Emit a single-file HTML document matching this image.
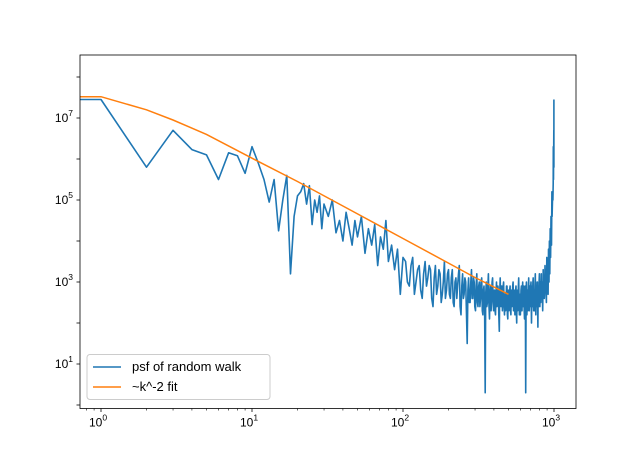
<!DOCTYPE html>
<html><head><meta charset="utf-8"><style>
body{margin:0;background:#fff}
svg text{font-family:"Liberation Sans",sans-serif;fill:#000}
</style></head><body>
<svg id="chart" width="640" height="459" xmlns="http://www.w3.org/2000/svg">
<rect width="640" height="459" fill="#fff"/>
<g id="plot"></g>
</svg>
<script>
// ---- data ----
const headK = [1,2,3,4,5,6,7,8,9,10,11,12,13,14,15,16,17,18,19,20,21,22,23,24,25,26,27,28,29,30,32,34,36,38,40,42,44,46,48,50,53,56,59,62,65,68,71,74,77,80,84,88,92,96,100];
const headLog = [7.45,5.8,6.7,6.23,6.1,5.5,6.15,6.08,5.65,6.3,5.9,5.5,4.95,5.5,4.25,5.0,5.6,3.2,4.6,5.1,5.2,5.4,4.9,5.35,4.4,5.0,4.7,5.1,4.3,4.9,4.6,5.0,4.2,4.5,4.0,4.7,4.3,3.9,4.5,4.1,4.6,3.7,4.3,3.9,4.4,3.4,4.1,3.8,4.5,3.5,3.9,3.3,3.8,2.7,3.6];
const denseStart = 104, denseStep = 3;
const denseLog = [3.5,3.0,2.9,3.4,3.6,2.7,3.0,3.3,3.4,2.8,2.6,3.2,3.5,2.9,3.1,3.4,3.3,2.6,2.4,3.1,3.4,2.7,2.9,3.3,3.2,2.5,2.7,3.0,3.5,2.6,2.8,3.2,3.3,2.7,
2.6,3.1,3.3,2.5,2.4,3.0,3.1,2.6,2.9,3.2,3.4,2.4,2.2,2.9,3.2,2.6,2.7,3.1,3.0,2.3,1.5,2.8,3.1,2.5,2.5,3.0,3.3,2.6,2.6,3.1,3.0,2.4,2.3,2.9,
3.2,2.5,2.4,2.9,3.0,2.4,2.6,3.0,3.1,2.3,2.2,2.8,2.9,2.4,0.3,2.7,3.0,2.4,2.5,2.9,3.2,2.4,2.1,2.7,2.9,2.3,2.6,3.0,3.1,2.5,2.3,2.8,2.8,2.3,
2.2,2.7,3.0,2.4,2.5,2.9,2.8,2.2,1.8,2.7,3.1,2.5,2.4,2.9,2.9,2.3,2.6,2.9,3.0,2.4,2.2,2.7,2.7,2.3,2.5,2.9,2.9,2.2,2.1,2.6,2.8,2.3,2.4,2.8,
2.9,2.3,2.2,2.7,2.8,2.4,2.6,2.9,3.0,2.3,2.3,2.8,2.7,2.2,2.5,2.8,2.9,2.3,2.0,2.6,2.8,2.3,2.4,2.9,3.1,2.5,2.2,2.7,2.7,2.2,2.5,2.8,2.9,2.3,
2.3,2.8,3.0,2.4,2.6,2.9,2.8,2.3,2.1,2.7,2.9,2.4,0.3,2.7,3.0,2.4,2.2,2.7,2.8,2.3,2.6,2.9,3.1,2.5,2.3,2.8,2.9,2.4,2.5,2.9,3.0,2.4,2.0,2.6,
2.9,2.4,2.6,3.0,3.1,2.5,2.3,2.8,2.8,2.3,2.5,2.9,3.2,2.6,2.2,2.7,2.9,2.4,2.7,3.0,3.0,2.4,1.9,2.6,2.9,2.4,2.6,3.0,3.2,2.6,2.4,2.8,3.0,2.5,
2.5,3.0,3.2,2.6,2.6,3.0,3.0,2.5,2.3,2.9,3.3,2.7,2.7,3.1,3.1,2.6,2.8,3.1,3.4,2.8,2.8,3.2,3.3,2.7,2.5,3.1,3.6,2.9,2.9,3.3,3.5,2.9,2.7,3.2,
3.8,3.1,3.0,3.5,4.0,3.3,3.2,3.8,4.3,3.6,3.6,4.1,4.6,3.9,3.9,4.5,5.2,4.6,4.8,5.0,5.1];
const tailK = [984,988,990,992,994,996,997,998,999];
const tailLog = [5.0,5.4,6.3,5.5,6.1,6.23,6.7,5.8,7.45];
const fitK = [1,2,3,5,10,20,50,100,200,300,500];
const fitLog = [7.52,7.2,6.95,6.6,6.02,5.45,4.66,4.06,3.46,3.11,2.7];
const xTickExp = [0,1,2,3];
const yTickExp = [1,3,5,7];

// ---- axes ----
const L=80,R=576,T=55,B=408.5;
const xPerDec=151, x0=101;
const y7=118, yPerDec=41;
const X = k => x0 + xPerDec*Math.log10(k);
const XL = lg => x0 + xPerDec*lg;
const Y = lg => y7 + (7-lg)*yPerDec;
const NS="http://www.w3.org/2000/svg";
const g=document.getElementById('plot');
function mk(tag,attrs,parent){const e=document.createElementNS(NS,tag);for(const k in attrs)e.setAttribute(k,attrs[k]);(parent||g).appendChild(e);return e;}

const clip=mk('clipPath',{id:'cp'});mk('rect',{x:L,y:T,width:R-L,height:B-T},clip);

let pts=[[L,Y(headLog[0])]];
headK.forEach((k,i)=>pts.push([X(k),Y(headLog[i])]));
denseLog.forEach((v,i)=>{const k=denseStart+denseStep*i; if(k<984) pts.push([X(k),Y(v)]);});
tailK.forEach((k,i)=>pts.push([X(k),Y(tailLog[i])]));
const blue=mk('polyline',{points:pts.map(p=>p[0].toFixed(1)+','+p[1].toFixed(1)).join(' '),fill:'none',stroke:'#1f77b4','stroke-width':1.6,'stroke-linejoin':'round','clip-path':'url(#cp)'});



let fp=[[L,Y(fitLog[0])]];
fitK.forEach((k,i)=>fp.push([X(k),Y(fitLog[i])]));
const fit=mk('polyline',{points:fp.map(p=>p[0].toFixed(1)+','+p[1].toFixed(1)).join(' '),fill:'none',stroke:'#ff7f0e','stroke-width':1.5,'clip-path':'url(#cp)'});



const fr=mk('rect',{x:L,y:T,width:R-L,height:B-T,fill:'none',stroke:'#000','stroke-width':0.8});



for(let d=-1;d<=3;d++){for(let m=1;m<10;m++){const x=XL(d+Math.log10(m));if(x<L||x>R)continue;
 const t=mk('line',{x1:x,x2:x,y1:B,y2:B+(m==1?3.5:2),stroke:'#000','stroke-width':m==1?0.8:0.6});
 
 }}
xTickExp.forEach(e=>{const t=mk('text',{x:XL(e)-3,y:B+18,'font-size':12,'text-anchor':'middle'});t.innerHTML='10<tspan dy="-6" font-size="8.5">'+e+'</tspan>';
 
 });
for(let e=0;e<=8;e++){const y=Y(e);if(y<T||y>B)continue;
 const t=mk('line',{x1:L-3.5,x2:L,y1:y,y2:y,stroke:'#000','stroke-width':0.8});
 
 }
yTickExp.forEach(e=>{const t=mk('text',{x:L-7,y:Y(e)+4,'font-size':12,'text-anchor':'end'});t.innerHTML='10<tspan dy="-6" font-size="8.5">'+e+'</tspan>';
 
 });

const lg=mk('g',{});


mk('rect',{x:87,y:354.5,width:183,height:45,rx:3,fill:'#fff','fill-opacity':0.8,stroke:'#ccc','stroke-width':1},lg);
mk('line',{x1:93,x2:121,y1:367,y2:367,stroke:'#1f77b4','stroke-width':1.5},lg);
const t1=mk('text',{x:132,y:371,'font-size':13},lg);t1.textContent='psf of random walk';


mk('line',{x1:93,x2:121,y1:387,y2:387,stroke:'#ff7f0e','stroke-width':1.5},lg);
const t2=mk('text',{x:132,y:391,'font-size':13},lg);t2.textContent='~k^-2 fit';


</script>
</body></html>
